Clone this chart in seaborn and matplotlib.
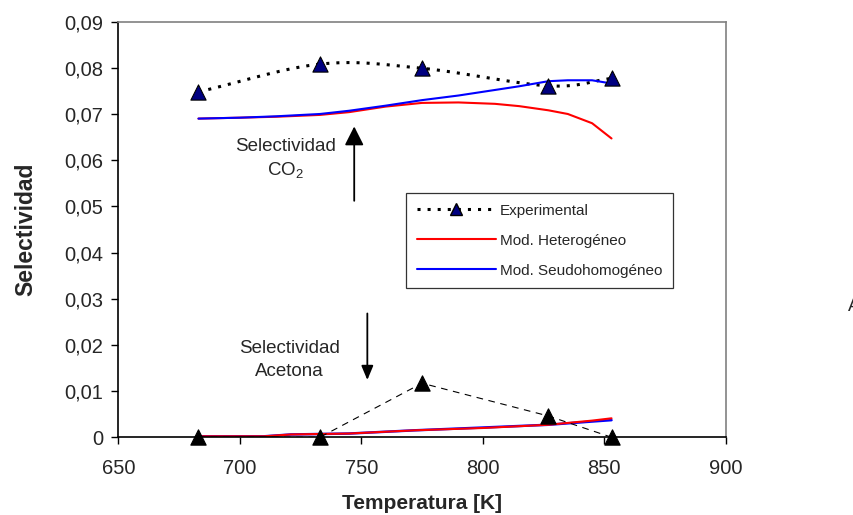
import numpy as np
import pandas as pd
import matplotlib
matplotlib.use("Agg")
import matplotlib.pyplot as plt
from matplotlib.lines import Line2D
from matplotlib.ticker import FuncFormatter, MultipleLocator
import seaborn as sns

# datos experimentales
temp_exp = [683, 733, 775, 827, 853]
co2_exp = [0.0748, 0.0808, 0.0799, 0.0761, 0.0777]
acet_exp = [0.0, 0.0, 0.0117, 0.0046, 0.0]

# modelos - selectividad CO2
temp_mod_co2 = [683, 700, 715, 733, 745, 760, 775, 790, 805, 815, 827, 835, 845, 853]
co2_het = [0.0690, 0.0692, 0.0694, 0.0698, 0.0704, 0.0716, 0.0724, 0.0725, 0.0722,
           0.0717, 0.0708, 0.0700, 0.0680, 0.0647]
co2_seu = [0.0690, 0.0692, 0.0695, 0.0700, 0.0707, 0.0718, 0.0730, 0.0740, 0.0752,
           0.0760, 0.0771, 0.0773, 0.0773, 0.0766]

# modelos - selectividad acetona
temp_mod_acet = [683, 710, 721, 745, 772, 800, 827, 845, 853]
acet_het = [0.0002, 0.0002, 0.0006, 0.0008, 0.0015, 0.0020, 0.0027, 0.0036, 0.0041]
acet_seu = [0.0002, 0.0002, 0.0006, 0.0008, 0.0015, 0.0021, 0.0027, 0.0034, 0.0037]

legend_labels = ["Experimental", "Mod. Heterogéneo", "Mod. Seudohomogéneo"]


def suavizar(x, y, n=30):
    # curva suavizada tipo Excel (Catmull-Rom)
    x = np.asarray(x, float)
    y = np.asarray(y, float)
    px = np.concatenate([[2 * x[0] - x[1]], x, [2 * x[-1] - x[-2]]])
    py = np.concatenate([[2 * y[0] - y[1]], y, [2 * y[-1] - y[-2]]])
    xs, ys = [], []
    for i in range(1, len(px) - 2):
        t = np.linspace(0, 1, n)
        for arr, out in ((px, xs), (py, ys)):
            p0, p1, p2, p3 = arr[i - 1], arr[i], arr[i + 1], arr[i + 2]
            out.extend(0.5 * (2 * p1 + (-p0 + p2) * t + (2 * p0 - 5 * p1 + 4 * p2 - p3) * t ** 2
                              + (-p0 + 3 * p1 - 3 * p2 + p3) * t ** 3))
    return np.array(xs), np.array(ys)


sns.set_style("white")
plt.rcParams['font.family'] = ['Liberation Sans', 'DejaVu Sans']
plt.rcParams['mathtext.default'] = 'regular'

fig = plt.figure(figsize=(8.54, 5.15), dpi=100)
ax = fig.add_axes([0.1385, 0.151, 0.7113, 0.807])

puntos = (0, (1, 2.3))

# experimental CO2 (suavizada, punteada)
xs, ys = suavizar(temp_exp, co2_exp)
sns.lineplot(x=xs, y=ys, ax=ax, color="black", linewidth=2.2, sort=False, estimator=None,
             linestyle=puntos)
sns.scatterplot(x=temp_exp, y=co2_exp, ax=ax, marker="^", s=120, color="#000080",
                edgecolor="black", linewidth=0.8, zorder=5)

# modelos
sns.lineplot(x=temp_mod_co2, y=co2_het, ax=ax, color="#FF0000", linewidth=1.5)
sns.lineplot(x=temp_mod_co2, y=co2_seu, ax=ax, color="#0000FF", linewidth=1.5)
sns.lineplot(x=temp_mod_acet, y=acet_seu, ax=ax, color="#0000FF", linewidth=1.8)
sns.lineplot(x=temp_mod_acet, y=acet_het, ax=ax, color="#FF0000", linewidth=1.5)

# experimental acetona
sns.lineplot(x=temp_exp, y=acet_exp, ax=ax, color="black", linewidth=0.8,
             linestyle=(0, (6, 5)))
sns.scatterplot(x=temp_exp, y=acet_exp, ax=ax, marker="^", s=120, color="black",
                edgecolor="black", zorder=6, clip_on=False)

ax.set_xlim(650, 900)
ax.set_ylim(0, 0.09)
ax.xaxis.set_major_locator(MultipleLocator(50))
ax.yaxis.set_major_locator(MultipleLocator(0.01))
ax.yaxis.set_major_formatter(FuncFormatter(
    lambda v, p: "0" if abs(v) < 1e-9 else f"{v:.2f}".replace(".", ",")))
ax.tick_params(axis="both", direction="out", length=5, width=1, labelsize=14.5,
               bottom=True, left=True, color="black", pad=6)
ax.tick_params(axis="x", pad=11)
for s in ["left", "bottom"]:
    ax.spines[s].set_color("black")
    ax.spines[s].set_linewidth(1.2)
for s in ["top", "right"]:
    ax.spines[s].set_color("#808080")
    ax.spines[s].set_linewidth(1.2)

ax.set_xlabel("Temperatura [K]", fontsize=15, fontweight="bold", labelpad=11)
ax.set_ylabel("Selectividad", fontsize=16.5, fontweight="bold", labelpad=19)

# anotaciones
ax.text(719, 0.0629, "Selectividad", fontsize=13.5, ha="center", va="center")
ax.text(719, 0.0579, "CO$_2$", fontsize=13.5, ha="center", va="center")
ax.annotate("", xy=(747.1, 0.0673), xytext=(747.1, 0.0512),
            arrowprops=dict(arrowstyle="-|>,head_length=1.15,head_width=0.58",
                            color="black", lw=1.3, mutation_scale=10, shrinkA=0, shrinkB=0))
ax.text(720.5, 0.0193, "Selectividad", fontsize=13.5, ha="center", va="center")
ax.text(720.5, 0.0142, "Acetona", fontsize=13.5, ha="center", va="center")
ax.annotate("", xy=(752.5, 0.0124), xytext=(752.5, 0.0268),
            arrowprops=dict(arrowstyle="-|>,head_length=0.86,head_width=0.36",
                            color="black", lw=1.3, mutation_scale=10, shrinkA=0, shrinkB=0))

# leyenda
handles = [
    Line2D([], [], color="black", linestyle=puntos, linewidth=2.2, marker="^",
           markersize=8, markerfacecolor="#000080", markeredgecolor="black"),
    Line2D([], [], color="#FF0000", linewidth=1.5),
    Line2D([], [], color="#0000FF", linewidth=1.5),
]
leg = ax.legend(handles, legend_labels, loc="upper left", bbox_to_anchor=(0.4737, 0.588),
                fontsize=11, frameon=True, fancybox=False, handlelength=5.2,
                handletextpad=0.25, borderpad=0.7, labelspacing=1.05, borderaxespad=0)
leg.get_frame().set_edgecolor("black")
leg.get_frame().set_linewidth(0.9)

fig.text(0.993, 0.405, "A", fontsize=13, ha="left", va="center")

fig.savefig("out.png", dpi=100)
